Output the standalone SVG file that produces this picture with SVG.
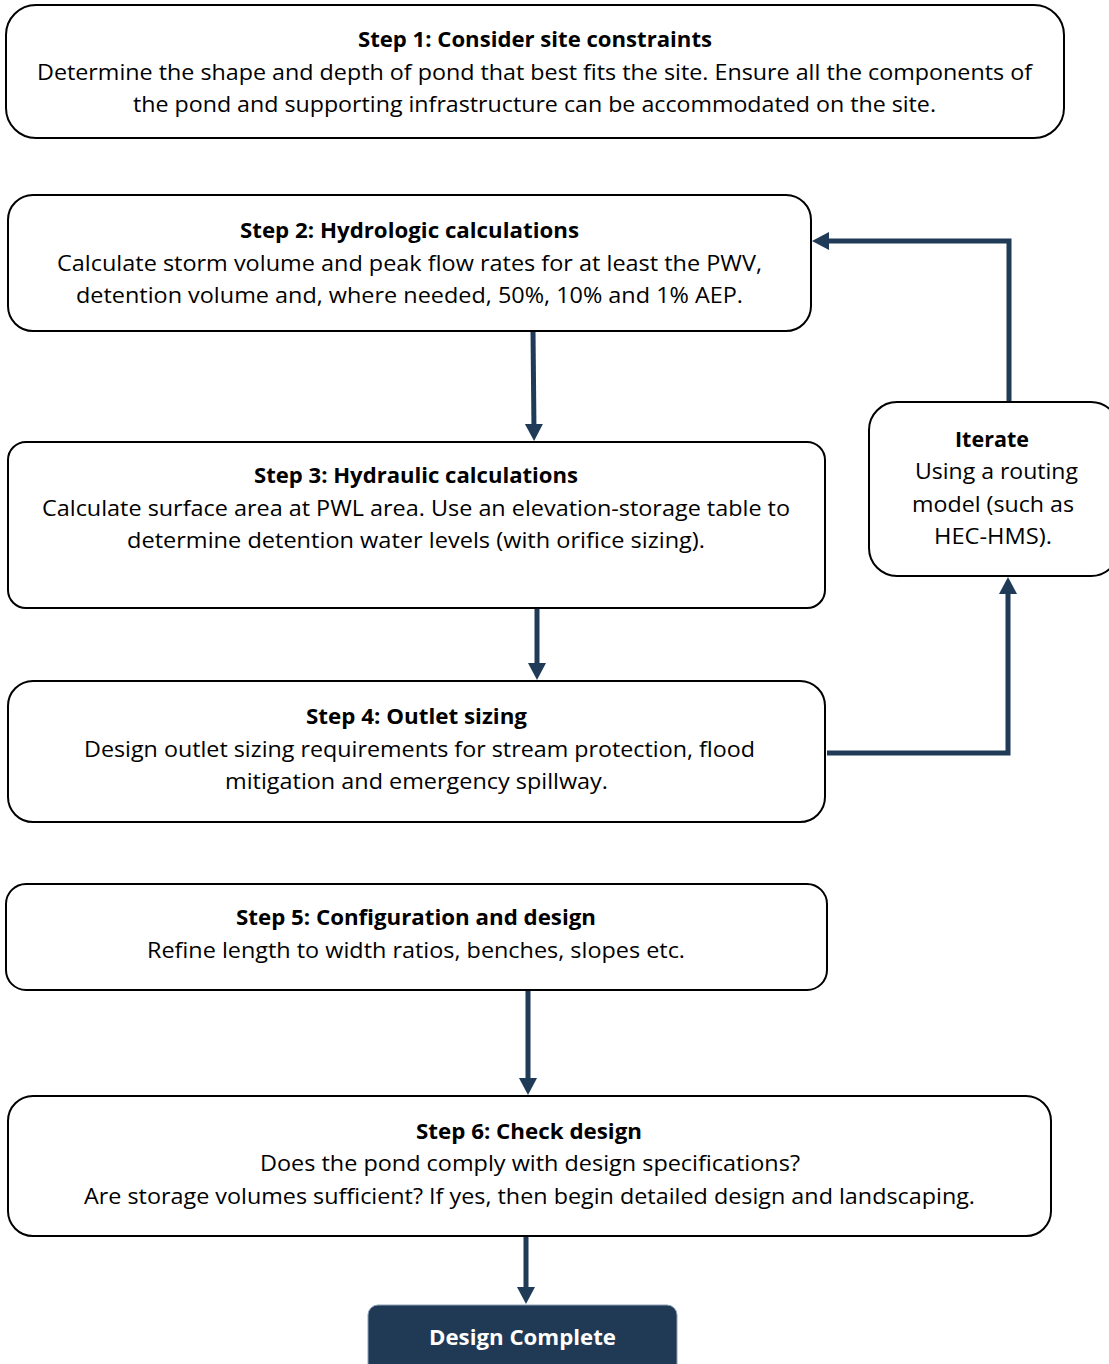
<svg xmlns="http://www.w3.org/2000/svg" width="1109" height="1364" viewBox="0 0 1109 1364">
<defs>
<style>
.box{fill:#ffffff;stroke:#000000;stroke-width:2}
.t{font-family:"Open Sans","Liberation Sans",sans-serif;font-size:22px;fill:#000000;text-anchor:middle}
.b{font-weight:bold}
.w{fill:#ffffff}
.c{fill:none;stroke:#1f3b57;stroke-width:5}
</style>
<marker id="ah" markerUnits="userSpaceOnUse" markerWidth="19" markerHeight="19" refX="7" refY="9.5" orient="auto">
<path d="M0,0.5 L17,9.5 L0,18.5 Z" fill="#1f3b57"/>
</marker>
</defs>
<rect width="1109" height="1364" fill="#ffffff"/>
<g id="connectors">
<path class="c" d="M533,331 L534,431" marker-end="url(#ah)"/>
<path class="c" d="M537,608 L537,670" marker-end="url(#ah)"/>
<path class="c" d="M528,990 L528,1085" marker-end="url(#ah)"/>
<path class="c" d="M526,1236 L526,1294" marker-end="url(#ah)"/>
<path class="c" d="M827,753 L1008,753 L1008,587" marker-end="url(#ah)"/>
<path class="c" d="M1009,403 L1009,241 L822,241" marker-end="url(#ah)"/>
</g>
<g id="step1">
<rect class="box" x="6" y="5" width="1058" height="133" rx="30"/>
<text class="t b" x="535" y="47" textLength="354" lengthAdjust="spacingAndGlyphs">Step 1: Consider site constraints</text>
<text class="t" x="534.5" y="80" textLength="995" lengthAdjust="spacingAndGlyphs">Determine the shape and depth of pond that best fits the site. Ensure all the components of</text>
<text class="t" x="534.5" y="112" textLength="803" lengthAdjust="spacingAndGlyphs">the pond and supporting infrastructure can be accommodated on the site.</text>
</g>
<g id="step2">
<rect class="box" x="8" y="195" width="803" height="136" rx="25"/>
<text class="t b" x="409.5" y="238" textLength="339" lengthAdjust="spacingAndGlyphs">Step 2: Hydrologic calculations</text>
<text class="t" x="409.5" y="271" textLength="705" lengthAdjust="spacingAndGlyphs">Calculate storm volume and peak flow rates for at least the PWV,</text>
<text class="t" x="409.5" y="303" textLength="667" lengthAdjust="spacingAndGlyphs">detention volume and, where needed, 50%, 10% and 1% AEP.</text>
</g>
<g id="step3">
<rect class="box" x="8" y="442" width="817" height="166" rx="18"/>
<text class="t b" x="416" y="483" textLength="324" lengthAdjust="spacingAndGlyphs">Step 3: Hydraulic calculations</text>
<text class="t" x="416" y="516" textLength="748" lengthAdjust="spacingAndGlyphs">Calculate surface area at PWL area. Use an elevation-storage table to</text>
<text class="t" x="416" y="548" textLength="578" lengthAdjust="spacingAndGlyphs">determine detention water levels (with orifice sizing).</text>
</g>
<g id="step4">
<rect class="box" x="8" y="681" width="817" height="141" rx="25"/>
<text class="t b" x="416.5" y="724" textLength="221" lengthAdjust="spacingAndGlyphs">Step 4: Outlet sizing</text>
<text class="t" x="419.5" y="757" textLength="671" lengthAdjust="spacingAndGlyphs">Design outlet sizing requirements for stream protection, flood</text>
<text class="t" x="416.5" y="789" textLength="383" lengthAdjust="spacingAndGlyphs">mitigation and emergency spillway.</text>
</g>
<g id="iterate">
<rect class="box" x="869" y="402" width="250" height="174" rx="28"/>
<text class="t b" x="992" y="447" textLength="74" lengthAdjust="spacingAndGlyphs">Iterate</text>
<text class="t" x="996.5" y="479" textLength="163" lengthAdjust="spacingAndGlyphs">Using a routing</text>
<text class="t" x="993" y="512" textLength="162" lengthAdjust="spacingAndGlyphs">model (such as</text>
<text class="t" x="993" y="544" textLength="118" lengthAdjust="spacingAndGlyphs">HEC-HMS).</text>
</g>
<g id="step5">
<rect class="box" x="6" y="884" width="821" height="106" rx="20"/>
<text class="t b" x="416" y="925" textLength="360" lengthAdjust="spacingAndGlyphs">Step 5: Configuration and design</text>
<text class="t" x="416" y="958" textLength="538" lengthAdjust="spacingAndGlyphs">Refine length to width ratios, benches, slopes etc.</text>
</g>
<g id="step6">
<rect class="box" x="8" y="1096" width="1043" height="140" rx="25"/>
<text class="t b" x="529" y="1139" textLength="226" lengthAdjust="spacingAndGlyphs">Step 6: Check design</text>
<text class="t" x="530" y="1171" textLength="540" lengthAdjust="spacingAndGlyphs">Does the pond comply with design specifications?</text>
<text class="t" x="529.5" y="1204" textLength="891" lengthAdjust="spacingAndGlyphs">Are storage volumes sufficient? If yes, then begin detailed design and landscaping.</text>
</g>
<g id="complete">
<rect x="368" y="1305" width="309" height="75" rx="10" fill="#203a55" stroke="#8aa0b5" stroke-width="1"/>
<text class="t b w" x="522.5" y="1345" textLength="187" lengthAdjust="spacingAndGlyphs">Design Complete</text>
</g>
</svg>
